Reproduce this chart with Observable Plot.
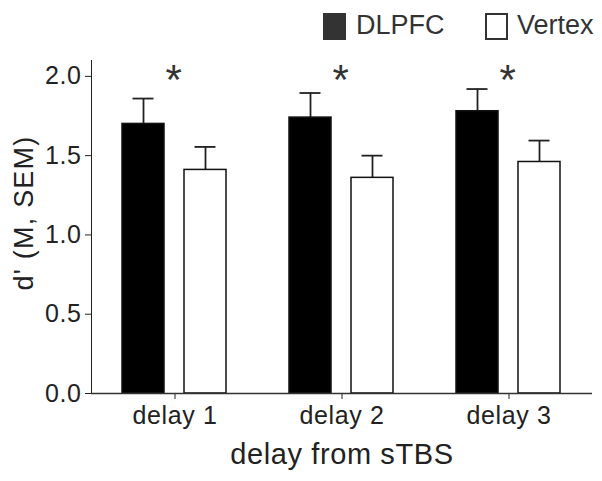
<!DOCTYPE html>
<html><head><meta charset="utf-8">
<script src="https://cdn.jsdelivr.net/npm/d3@7"></script>
<script src="https://cdn.jsdelivr.net/npm/@observablehq/plot@0.6"></script>
<style>
body{margin:0;background:#fff;font-family:"Liberation Sans",Arial,sans-serif;}
#legend{position:relative;height:50px;width:602px;color:#333;font-size:27px;}
#legend .sw{position:absolute;top:13px;width:23px;height:27px;box-sizing:border-box;}
#legend .lb{position:absolute;top:10px;line-height:30px;}
</style></head><body>
<div id="legend">
  <div class="sw" style="left:323px;background:#333;"></div><div class="lb" style="left:356px;">DLPFC</div>
  <div class="sw" style="left:485px;background:#fff;border:2px solid #333;"></div><div class="lb" style="left:517px;">Vertex</div>
</div>
<div id="chart"></div>
<script>
const delays = ["delay 1", "delay 2", "delay 3"];
const series = ["DLPFC", "Vertex"];
const dlpfcMean = [1.70, 1.74, 1.78];
const dlpfcSem = [0.16, 0.155, 0.14];
const vertexMean = [1.41, 1.36, 1.46];
const vertexSem = [0.145, 0.14, 0.135];
const starLevel = [2.0, 2.0, 2.0];
const yTicks = [0, 0.5, 1.0, 1.5, 2.0];

const rows = [];
delays.forEach((d, i) => {
  rows.push({delay: d, group: "DLPFC", mean: dlpfcMean[i], top: dlpfcMean[i] + dlpfcSem[i]});
  rows.push({delay: d, group: "Vertex", mean: vertexMean[i], top: vertexMean[i] + vertexSem[i]});
});
const stars = delays.map((d, i) => ({delay: d, y: starLevel[i]}));

const plot = Plot.plot({
  width: 602,
  height: 431,
  marginLeft: 90,
  marginRight: 10,
  marginTop: 10,
  marginBottom: 88,
  style: {fontFamily: '"Liberation Sans", Arial, sans-serif', fontSize: "25px", color: "#222", background: "#fff", letterSpacing: "0.6px"},
  fx: {domain: delays, padding: 0, axis: "bottom", tickSize: 6, tickPadding: 7, label: "delay from sTBS", labelAnchor: "center", labelOffset: 70},
  x: {domain: series, paddingInner: 0.317, paddingOuter: 0.49, axis: null},
  y: {domain: [0, 2.1], ticks: yTicks, tickFormat: d3.format(".1f"), line: true, tickSize: 6, tickPadding: 4, label: "d' (M, SEM)", labelAnchor: "center", labelOffset: 78},
  color: {domain: series, range: ["black", "white"]},
  marks: [
    Plot.ruleX(rows, {fx: "delay", x: "group", y1: "mean", y2: "top", stroke: "#222", strokeWidth: 1.8}),
    Plot.tickY(rows, {fx: "delay", x: "group", y: "top", stroke: "#222", strokeWidth: 1.8, insetLeft: 10.5, insetRight: 10.5}),
    Plot.barY(rows, {fx: "delay", x: "group", y: "mean", fill: "group", stroke: "#111", strokeWidth: 1.5}),
    Plot.ruleY([0], {stroke: "#333", strokeWidth: 1.5}),
    Plot.text(stars, {fx: "delay", y: "y", text: () => "*", fontSize: 42, dx: -1, dy: 4, fill: "#333"})
  ]
});
document.getElementById("chart").appendChild(plot);

// adjust axis label fonts / arrow
plot.querySelectorAll("text").forEach(t => {
  const s = t.textContent.trim();
  if (s.startsWith("delay from")) { t.style.fontSize = "29px"; }
  if (s.startsWith("d' (M") || s.includes("(M, SEM)")) {
    t.textContent = "d' (M, SEM)";
    t.style.fontSize = "27px";
    t.style.letterSpacing = "1.2px";
    t.setAttribute("dx", "14");
  }
});
</script>
</body></html>
